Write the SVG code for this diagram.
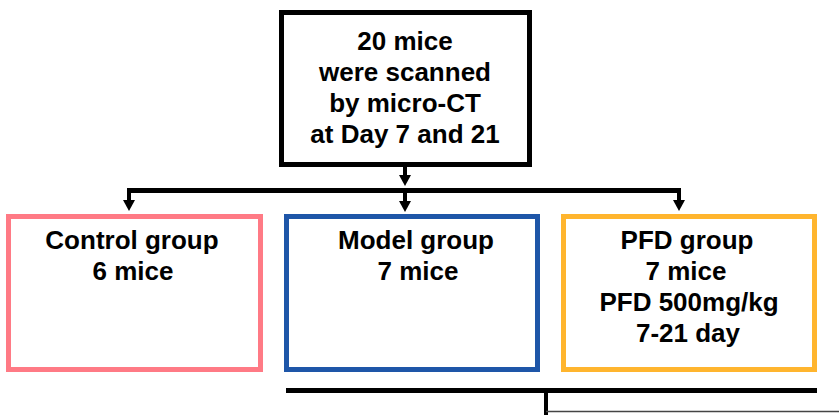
<svg xmlns="http://www.w3.org/2000/svg" width="839" height="415" viewBox="0 0 839 415">
<style>
.box{fill:#fff;stroke-width:5}
.t{font-family:"Liberation Sans",Arial,sans-serif;font-weight:bold;font-size:26px;fill:#000;text-anchor:middle}
.ln{fill:none;stroke:#000;stroke-width:5}
.sh{fill:none;stroke:#000;stroke-width:4}
</style>
<defs>
<marker id="ah" markerUnits="userSpaceOnUse" markerWidth="12" markerHeight="12" refX="0" refY="6" orient="auto">
<path d="M0,0 L11,6 L0,12 Z" fill="#000"/>
</marker>
</defs>
<rect width="839" height="415" fill="#fff"/>
<g id="top">
<rect class="box" x="281.5" y="12.5" width="248" height="152" stroke="#000"/>
<text class="t" x="405" y="50">20 mice</text>
<text class="t" x="405" y="81">were scanned</text>
<text class="t" x="405" y="112">by micro-CT</text>
<text class="t" x="405" y="143">at Day 7 and 21</text>
</g>
<g id="control">
<rect class="box" x="8.5" y="216.5" width="252" height="153" stroke="#FF7A85"/>
<text class="t" x="132" y="249">Control group</text>
<text class="t" x="133" y="280">6 mice</text>
</g>
<g id="model">
<rect class="box" x="286.5" y="216.5" width="251" height="153" stroke="#1E56A8"/>
<text class="t" x="416" y="249">Model group</text>
<text class="t" x="418" y="280">7 mice</text>
</g>
<g id="pfd">
<rect class="box" x="563.5" y="216.5" width="251" height="153" stroke="#FFB52E"/>
<text class="t" x="687" y="249">PFD group</text>
<text class="t" x="686" y="280">7 mice</text>
<text class="t" x="689" y="311">PFD 500mg/kg</text>
<text class="t" x="688" y="342">7-21 day</text>
</g>
<g id="connectors">
<line class="sh" x1="405" y1="166" x2="405" y2="175" marker-end="url(#ah)"/>
<line class="ln" x1="127" y1="190.5" x2="681" y2="190.5"/>
<line class="sh" x1="129" y1="190" x2="129" y2="200" marker-end="url(#ah)"/>
<line class="sh" x1="405" y1="192" x2="405" y2="201" marker-end="url(#ah)"/>
<line class="sh" x1="679" y1="190" x2="679" y2="200" marker-end="url(#ah)"/>
<line class="ln" x1="286" y1="390.5" x2="817" y2="390.5"/>
<line class="sh" x1="546" y1="390" x2="546" y2="415"/>
<line x1="546" y1="411.5" x2="839" y2="411.5" stroke="#444" stroke-width="1.5"/>
</g>
</svg>
